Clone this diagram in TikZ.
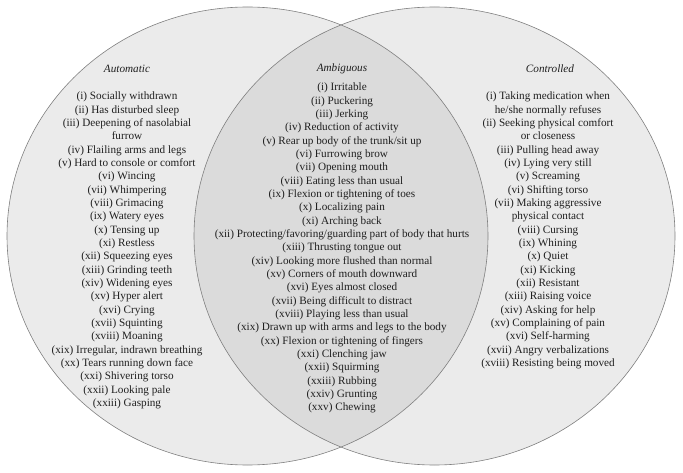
\documentclass[tikz,border=0pt]{standalone}
\usepackage{fontspec}
\setmainfont{Liberation Serif}
\begin{document}
\begin{tikzpicture}[x=1pt,y=-1pt,
  listtext/.style={align=center,inner sep=0pt,anchor=north,text=black!88,
    font=\fontsize{11.2}{13.33}\selectfont},
  headtext/.style={inner sep=0pt,text=black!88,font=\fontsize{11.2}{13.33}\selectfont\itshape},
  venn/.style={draw=black!50,line width=0.6pt}]
\useasboundingbox (0,0) rectangle (683,473);
\fill[white] (0,0) rectangle (683,473);
% circles
\fill[black!8] (247.5,236) ellipse [x radius=240.5pt, y radius=229pt];
\fill[black!8] (434.5,236) ellipse [x radius=240.5pt, y radius=229pt];
\begin{scope}
  \clip (247.5,236) ellipse [x radius=240.5pt, y radius=229pt];
  \fill[black!14] (434.5,236) ellipse [x radius=240.5pt, y radius=229pt];
\end{scope}
\draw[venn] (247.5,236) ellipse [x radius=240.5pt, y radius=229pt];
\draw[venn] (434.5,236) ellipse [x radius=240.5pt, y radius=229pt];
% headings
\node[headtext] (hA) at (127,69) {Automatic};
\node[headtext] (hB) at (342,69) {Ambiguous};
\node[headtext] (hC) at (550,69) {Controlled};
% lists
\node[listtext] (lA) at (127,92) {(i) Socially withdrawn\\(ii) Has disturbed sleep\\(iii) Deepening of nasolabial\\furrow\\(iv) Flailing arms and legs\\(v) Hard to console or comfort\\(vi) Wincing\\(vii) Whimpering\\(viii) Grimacing\\(ix) Watery eyes\\(x) Tensing up\\(xi) Restless\\(xii) Squeezing eyes\\(xiii) Grinding teeth\\(xiv) Widening eyes\\(xv) Hyper alert\\(xvi) Crying\\(xvii) Squinting\\(xviii) Moaning\\(xix) Irregular, indrawn breathing\\(xx) Tears running down face\\(xxi) Shivering torso\\(xxii) Looking pale\\(xxiii) Gasping};
\node[listtext] (lB) at (342,83) {(i) Irritable\\(ii) Puckering\\(iii) Jerking\\(iv) Reduction of activity\\(v) Rear up body of the trunk/sit up\\(vi) Furrowing brow\\(vii) Opening mouth\\(viii) Eating less than usual\\(ix) Flexion or tightening of toes\\(x) Localizing pain\\(xi) Arching back\\(xii) Protecting/favoring/guarding part of body that hurts\\(xiii) Thrusting tongue out\\(xiv) Looking more flushed than normal\\(xv) Corners of mouth downward\\(xvi) Eyes almost closed\\(xvii) Being difficult to distract\\(xviii) Playing less than usual\\(xix) Drawn up with arms and legs to the body\\(xx) Flexion or tightening of fingers\\(xxi) Clenching jaw\\(xxii) Squirming\\(xxiii) Rubbing\\(xxiv) Grunting\\(xxv) Chewing};
\node[listtext] (lC) at (548,92) {(i) Taking medication when\\he/she normally refuses\\(ii) Seeking physical comfort\\or closeness\\(iii) Pulling head away\\(iv) Lying very still\\(v) Screaming\\(vi) Shifting torso\\(vii) Making aggressive\\physical contact\\(viii) Cursing\\(ix) Whining\\(x) Quiet\\(xi) Kicking\\(xii) Resistant\\(xiii) Raising voice\\(xiv) Asking for help\\(xv) Complaining of pain\\(xvi) Self-harming\\(xvii) Angry verbalizations\\(xviii) Resisting being moved};
\end{tikzpicture}
\end{document}
